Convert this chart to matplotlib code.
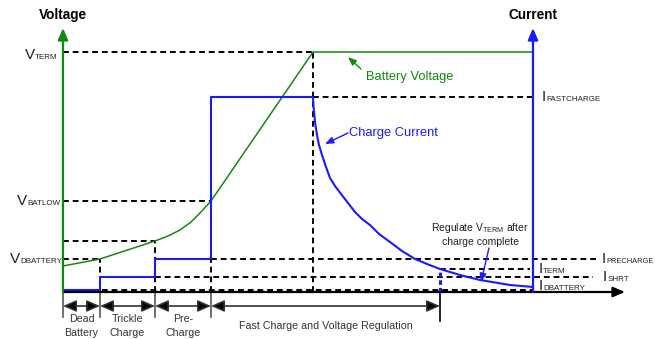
import matplotlib
matplotlib.use("Agg")
import matplotlib.pyplot as plt

plt.rcParams['font.family'] = ['Liberation Sans', 'DejaVu Sans']

GREEN = '#108a10'
BLUE = '#1a1aff'
TEXT = '#222222'
GRAY = '#555555'

# phase boundaries along the time axis
t_start, t_dead, t_trickle, t_pre, t_cv, t_term, t_end = 0, 37, 92, 148, 250, 377, 470
x_axis_end = 562
y_axis_top = 264

# voltage / current levels
V_TERM = 240
V_BATLOW = 91
V_TRICKLE_END = 51
V_DBATTERY = 33
V_START = 26
I_FASTCHARGE = 195
I_PRECHARGE = 33
I_TERM = 23
I_SHRT = 15
I_DBATTERY = 2

# battery voltage trace
volt_t = [0, 37, 92, 105, 117, 128, 137, 148, 250, 470]
volt_v = [V_START, V_DBATTERY, V_TRICKLE_END, 56, 62, 70, 79, V_BATLOW, V_TERM, V_TERM]

# charge current trace (steps, then taper in voltage regulation)
curr_t = [0, 37, 37, 92, 92, 148, 148, 250,
          250.5, 252, 254, 256, 259, 263, 267, 272, 278, 285, 292, 299, 307, 316, 327,
          339, 352, 364, 377, 397, 417, 447, 470]
curr_i = [I_DBATTERY, I_DBATTERY, I_SHRT, I_SHRT, I_PRECHARGE, I_PRECHARGE, I_FASTCHARGE, I_FASTCHARGE,
          186, 170, 157, 147, 137, 125, 114, 106, 98, 89, 80, 73, 67, 58, 50,
          41, I_PRECHARGE, 28, I_TERM, 17, 12, 7, 5]

# dashed reference lines: (x from, x to, level)
h_refs = [(0, 250, V_TERM), (250, 470, I_FASTCHARGE), (0, 148, V_BATLOW),
          (0, 92, V_TRICKLE_END), (0, 37, V_DBATTERY), (148, 537, I_PRECHARGE),
          (92, 530, I_SHRT), (377, 467, I_TERM), (0, 470, I_DBATTERY)]
v_refs = [(37, V_DBATTERY), (92, V_TRICKLE_END), (148, V_BATLOW), (250, V_TERM)]

phases = [(0, 37, "Dead\nBattery"), (37, 92, "Trickle\nCharge"),
          (92, 148, "Pre-\nCharge"), (148, 377, "Fast Charge and Voltage Regulation")]

fig = plt.figure(figsize=(6.55, 3.39), dpi=100)
ax = fig.add_axes([0, 0, 1, 1])
ax.set_xlim(-63, 592)
ax.set_ylim(-47, 292)
ax.axis('off')

dash = dict(color='black', lw=1.4, linestyle=(0, (3, 2)))
for x0, x1, y in h_refs:
    ax.plot([x0, x1], [y, y], **dash)
for x, y in v_refs:
    ax.plot([x, x], [0, y], **dash)

# traces
ax.plot(volt_t, volt_v, color=GREEN, lw=1.1)
ax.plot(curr_t, curr_i, color=BLUE, lw=1.5, solid_joinstyle='round')
ax.plot([t_term, t_term], [0, I_TERM], color=BLUE, lw=2.2, linestyle=(0, (1.5, 1)))

# axes with arrowheads
def axis_arrow(x0, y0, x1, y1, color):
    ax.annotate("", xy=(x1, y1), xytext=(x0, y0),
                arrowprops=dict(arrowstyle='-|>,head_length=0.7,head_width=0.3',
                                color=color, lw=1.6, shrinkA=0, shrinkB=0))

axis_arrow(t_start, 0, x_axis_end, 0, 'black')
axis_arrow(t_start, 0, t_start, y_axis_top, GREEN)
axis_arrow(t_end, 0, t_end, y_axis_top, BLUE)

ax.text(t_start, 277, "Voltage", ha='center', va='center', fontsize=9.8, fontweight='bold', color='black')
ax.text(t_end, 277, "Current", ha='center', va='center', fontsize=9.8, fontweight='bold', color='black')

# phase markers below the time axis
for x in [0, 37, 92, 148]:
    ax.plot([x, x], [0, -25], color=GRAY, lw=1.2)
ax.plot([t_term, t_term], [0, -29], color='black', lw=1.2)
for x0, x1, label in phases:
    ax.annotate("", xy=(x1, -14), xytext=(x0, -14),
                arrowprops=dict(arrowstyle='<|-|>,head_length=0.8,head_width=0.35',
                                fc='black', ec='#333333', lw=1.2, shrinkA=0, shrinkB=0))
    ax.text((x0 + x1) / 2, -34, label, ha='center', va='center', fontsize=7.7,
            color='#333333', linespacing=1.5)

# level labels: big letter followed by small-caps style subscript
def level_label(x, y, main, sub, sub_size=5.8):
    t = ax.text(x, y, main, ha='left', va='center', fontsize=11, color=TEXT)
    ax.annotate(sub, xy=(1, 0.05), xycoords=t, ha='left', va='bottom',
                fontsize=sub_size, color=TEXT)

level_label(-38, 237, "V", "TERM")
level_label(-46, 91, "V", "BATLOW")
level_label(-53, 33, "V", "DBATTERY")
level_label(479, 195, "I", "FASTCHARGE")
level_label(539, 33, "I", "PRECHARGE", sub_size=5.4)
level_label(476, 23, "I", "TERM")
level_label(540, 15, "I", "SHRT")
level_label(476, 6, "I", "DBATTERY")

# callouts
ax.text(303, 215, "Battery Voltage", ha='left', va='center', fontsize=9.3, color=GREEN)
ax.annotate("", xy=(285, 235), xytext=(298, 223),
            arrowprops=dict(arrowstyle='-|>,head_length=0.5,head_width=0.2',
                            color=GREEN, lw=1.0, shrinkA=0, shrinkB=0))
ax.text(286, 159, "Charge Current", ha='left', va='center', fontsize=9.3, color=BLUE)
ax.annotate("", xy=(262, 148), xytext=(285, 159),
            arrowprops=dict(arrowstyle='-|>,head_length=0.5,head_width=0.2',
                            color=BLUE, lw=1.0, shrinkA=0, shrinkB=0))
ax.text(417, 58, "Regulate V$_{\\mathregular{TERM}}$ after\ncharge complete", ha='center', va='center',
        fontsize=7.5, color=TEXT, linespacing=1.3)
ax.annotate("", xy=(418, 10), xytext=(426, 44),
            arrowprops=dict(arrowstyle='-|>,head_length=0.5,head_width=0.2',
                            color=BLUE, lw=1.0, shrinkA=0, shrinkB=0))

fig.savefig("out.png", dpi=100, facecolor='white')
